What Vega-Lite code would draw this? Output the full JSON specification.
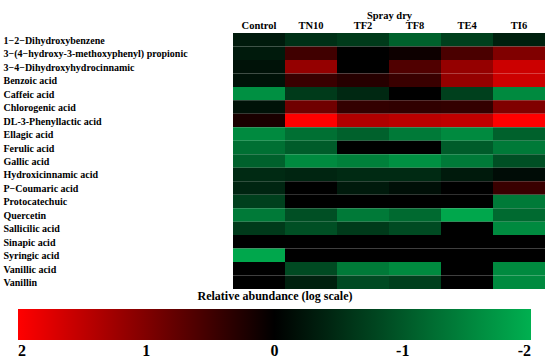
{
  "$schema": "https://vega.github.io/schema/vega-lite/v6.json",
  "width": 312,
  "height": 256,
  "autosize": "none",
  "padding": {"left": 233, "top": 33, "right": 5, "bottom": 73},
  "background": "white",
  "config": {
    "view": {"stroke": null},
    "font": "Liberation Serif",
    "legend": {"gradientHorizontalMaxLength": 600, "gradientHorizontalMinLength": 100}
  },
  "data": {"values": [
    {"c":"1−2−Dihydroxybenzene","s":"Control","v":-0.3},{"c":"1−2−Dihydroxybenzene","s":"TN10","v":-0.55},{"c":"1−2−Dihydroxybenzene","s":"TF2","v":-0.66},{"c":"1−2−Dihydroxybenzene","s":"TF8","v":-1.1},{"c":"1−2−Dihydroxybenzene","s":"TE4","v":-0.73},{"c":"1−2−Dihydroxybenzene","s":"TI6","v":-0.36},
    {"c":"3−(4−hydroxy-3-methoxyphenyl) propionic","s":"Control","v":-0.3},{"c":"3−(4−hydroxy-3-methoxyphenyl) propionic","s":"TN10","v":0.5},{"c":"3−(4−hydroxy-3-methoxyphenyl) propionic","s":"TF2","v":0},{"c":"3−(4−hydroxy-3-methoxyphenyl) propionic","s":"TF8","v":0.1},{"c":"3−(4−hydroxy-3-methoxyphenyl) propionic","s":"TE4","v":0.58},{"c":"3−(4−hydroxy-3-methoxyphenyl) propionic","s":"TI6","v":1.0},
    {"c":"3−4−Dihydroxyhydrocinnamic","s":"Control","v":-0.2},{"c":"3−4−Dihydroxyhydrocinnamic","s":"TN10","v":1.17},{"c":"3−4−Dihydroxyhydrocinnamic","s":"TF2","v":0},{"c":"3−4−Dihydroxyhydrocinnamic","s":"TF8","v":0.63},{"c":"3−4−Dihydroxyhydrocinnamic","s":"TE4","v":1.17},{"c":"3−4−Dihydroxyhydrocinnamic","s":"TI6","v":1.6},
    {"c":"Benzoic acid","s":"Control","v":-0.2},{"c":"Benzoic acid","s":"TN10","v":0.45},{"c":"Benzoic acid","s":"TF2","v":0.3},{"c":"Benzoic acid","s":"TF8","v":0.45},{"c":"Benzoic acid","s":"TE4","v":1.17},{"c":"Benzoic acid","s":"TI6","v":1.6},
    {"c":"Caffeic acid","s":"Control","v":-1.64},{"c":"Caffeic acid","s":"TN10","v":-0.66},{"c":"Caffeic acid","s":"TF2","v":-0.45},{"c":"Caffeic acid","s":"TF8","v":0},{"c":"Caffeic acid","s":"TE4","v":-0.73},{"c":"Caffeic acid","s":"TI6","v":-1.57},
    {"c":"Chlorogenic acid","s":"Control","v":-0.2},{"c":"Chlorogenic acid","s":"TN10","v":0.88},{"c":"Chlorogenic acid","s":"TF2","v":0.4},{"c":"Chlorogenic acid","s":"TF8","v":0.38},{"c":"Chlorogenic acid","s":"TE4","v":0.4},{"c":"Chlorogenic acid","s":"TI6","v":1.0},
    {"c":"DL-3-Phenyllactic acid","s":"Control","v":0.2},{"c":"DL-3-Phenyllactic acid","s":"TN10","v":2.0},{"c":"DL-3-Phenyllactic acid","s":"TF2","v":1.38},{"c":"DL-3-Phenyllactic acid","s":"TF8","v":1.45},{"c":"DL-3-Phenyllactic acid","s":"TE4","v":1.5},{"c":"DL-3-Phenyllactic acid","s":"TI6","v":2.0},
    {"c":"Ellagic acid","s":"Control","v":-1.57},{"c":"Ellagic acid","s":"TN10","v":-1.27},{"c":"Ellagic acid","s":"TF2","v":-1.1},{"c":"Ellagic acid","s":"TF8","v":-1.39},{"c":"Ellagic acid","s":"TE4","v":-1.57},{"c":"Ellagic acid","s":"TI6","v":-1.1},
    {"c":"Ferulic acid","s":"Control","v":-1.27},{"c":"Ferulic acid","s":"TN10","v":-1.05},{"c":"Ferulic acid","s":"TF2","v":0},{"c":"Ferulic acid","s":"TF8","v":0},{"c":"Ferulic acid","s":"TE4","v":-1.05},{"c":"Ferulic acid","s":"TI6","v":-1.39},
    {"c":"Gallic acid","s":"Control","v":-1.1},{"c":"Gallic acid","s":"TN10","v":-1.57},{"c":"Gallic acid","s":"TF2","v":-1.45},{"c":"Gallic acid","s":"TF8","v":-1.64},{"c":"Gallic acid","s":"TE4","v":-1.39},{"c":"Gallic acid","s":"TI6","v":-0.9},
    {"c":"Hydroxicinnamic acid","s":"Control","v":-0.48},{"c":"Hydroxicinnamic acid","s":"TN10","v":-0.42},{"c":"Hydroxicinnamic acid","s":"TF2","v":-0.48},{"c":"Hydroxicinnamic acid","s":"TF8","v":-0.48},{"c":"Hydroxicinnamic acid","s":"TE4","v":-0.3},{"c":"Hydroxicinnamic acid","s":"TI6","v":-0.14},
    {"c":"P−Coumaric acid","s":"Control","v":-0.42},{"c":"P−Coumaric acid","s":"TN10","v":0},{"c":"P−Coumaric acid","s":"TF2","v":-0.3},{"c":"P−Coumaric acid","s":"TF8","v":-0.17},{"c":"P−Coumaric acid","s":"TE4","v":0},{"c":"P−Coumaric acid","s":"TI6","v":0.45},
    {"c":"Protocatechuic","s":"Control","v":-0.73},{"c":"Protocatechuic","s":"TN10","v":0},{"c":"Protocatechuic","s":"TF2","v":0},{"c":"Protocatechuic","s":"TF8","v":0},{"c":"Protocatechuic","s":"TE4","v":0},{"c":"Protocatechuic","s":"TI6","v":-1.39},
    {"c":"Quercetin","s":"Control","v":-1.39},{"c":"Quercetin","s":"TN10","v":-0.9},{"c":"Quercetin","s":"TF2","v":-1.39},{"c":"Quercetin","s":"TF8","v":-1.2},{"c":"Quercetin","s":"TE4","v":-1.9},{"c":"Quercetin","s":"TI6","v":-1.2},
    {"c":"Sallicilic acid","s":"Control","v":-0.66},{"c":"Sallicilic acid","s":"TN10","v":-0.9},{"c":"Sallicilic acid","s":"TF2","v":-0.66},{"c":"Sallicilic acid","s":"TF8","v":-0.84},{"c":"Sallicilic acid","s":"TE4","v":0},{"c":"Sallicilic acid","s":"TI6","v":-1.57},
    {"c":"Sinapic acid","s":"Control","v":0},{"c":"Sinapic acid","s":"TN10","v":0},{"c":"Sinapic acid","s":"TF2","v":0},{"c":"Sinapic acid","s":"TF8","v":0},{"c":"Sinapic acid","s":"TE4","v":0},{"c":"Sinapic acid","s":"TI6","v":0},
    {"c":"Syringic acid","s":"Control","v":-1.9},{"c":"Syringic acid","s":"TN10","v":0},{"c":"Syringic acid","s":"TF2","v":0},{"c":"Syringic acid","s":"TF8","v":0},{"c":"Syringic acid","s":"TE4","v":0},{"c":"Syringic acid","s":"TI6","v":0},
    {"c":"Vanillic acid","s":"Control","v":0},{"c":"Vanillic acid","s":"TN10","v":-0.84},{"c":"Vanillic acid","s":"TF2","v":-1.39},{"c":"Vanillic acid","s":"TF8","v":-1.57},{"c":"Vanillic acid","s":"TE4","v":0},{"c":"Vanillic acid","s":"TI6","v":-1.57},
    {"c":"Vanillin","s":"Control","v":0},{"c":"Vanillin","s":"TN10","v":-0.36},{"c":"Vanillin","s":"TF2","v":-0.84},{"c":"Vanillin","s":"TF8","v":-0.73},{"c":"Vanillin","s":"TE4","v":0},{"c":"Vanillin","s":"TI6","v":-1.57}
  ]},
  "mark": {"type": "rect", "strokeWidth": 0},
  "encoding": {
    "x": {
      "field": "s", "type": "nominal", "sort": null,
      "scale": {"paddingInner": 0, "paddingOuter": 0},
      "axis": {
        "orient": "top", "domain": false, "ticks": false, "labelAngle": 0,
        "labelFont": "Liberation Serif", "labelFontWeight": "bold", "labelFontSize": 10.5, "labelColor": "black",
        "labelPadding": 3,
        "title": "Spray dry", "titleFont": "Liberation Serif", "titleFontWeight": "bold", "titleFontSize": 10.5, "titleColor": "black",
        "titleX": 156, "titleY": -15, "titleBaseline": "alphabetic", "titleAlign": "center"
      }
    },
    "y": {
      "field": "c", "type": "nominal", "sort": null,
      "scale": {"paddingInner": 0, "paddingOuter": 0},
      "axis": {
        "title": null, "domain": false, "ticks": false,
        "labelAlign": "left", "labelPadding": 230, "labelLimit": 300, "labelOffset": 1,
        "labelFont": "Liberation Serif", "labelFontWeight": "bold", "labelFontSize": 10, "labelColor": "black"
      }
    },
    "color": {
      "field": "v", "type": "quantitative",
      "scale": {"domain": [2, 0, -2], "range": ["#ff0000", "#000000", "#00b050"], "interpolate": "rgb", "nice": false, "zero": false},
      "legend": {
        "orient": "none", "direction": "horizontal", "legendX": -215, "legendY": 258,
        "gradientLength": 513, "gradientThickness": 31, "gradientStrokeWidth": 0,
        "values": [2, 1, 0, -1, -2],
        "labelExpr": "'' + datum.value",
        "labelFont": "Liberation Serif", "labelFontWeight": "bold", "labelFontSize": 16, "labelColor": "black", "labelOffset": 3,
        "title": "Relative abundance (log scale)", "titleFont": "Liberation Serif", "titleFontWeight": "bold", "titleFontSize": 12, "titleColor": "black",
        "titleAnchor": "middle", "titlePadding": 6
      }
    }
  }
}
